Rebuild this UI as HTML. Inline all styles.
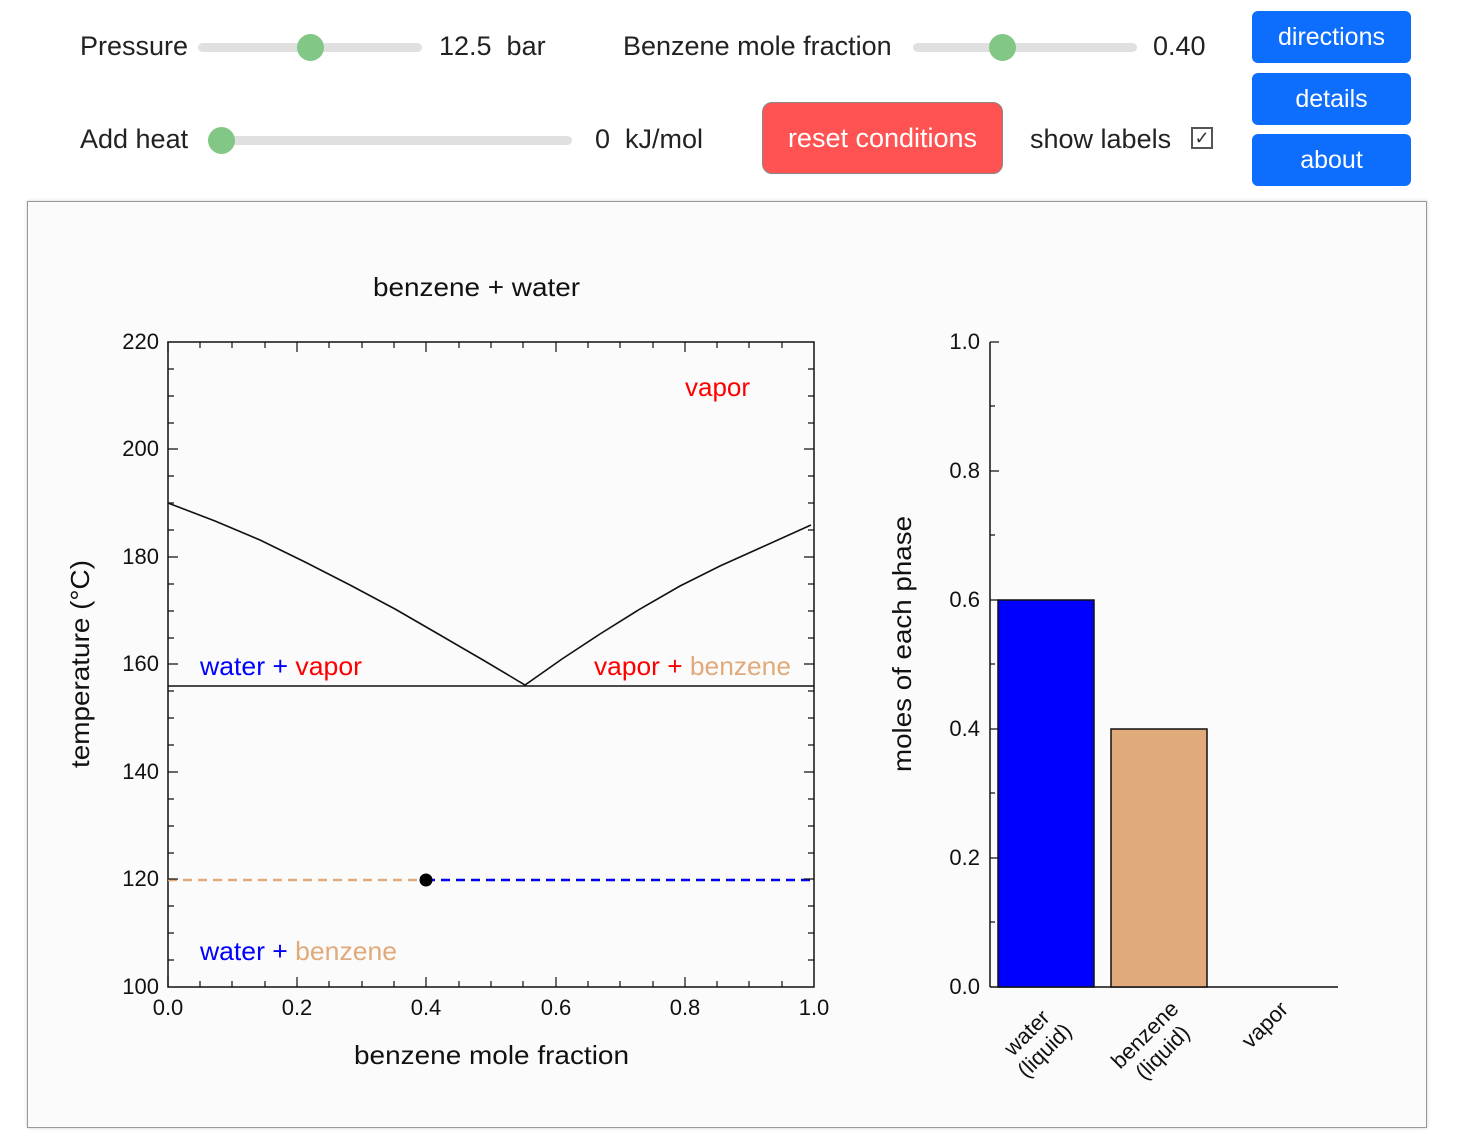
<!DOCTYPE html>
<html><head><meta charset="utf-8"><style>
body{margin:0;width:1469px;height:1147px;background:#fff;font-family:"Liberation Sans",sans-serif;position:relative;overflow:hidden}
.t{position:absolute;font-size:27px;color:#222;white-space:nowrap}
.track{position:absolute;height:9px;background:#e0e0e0;border-radius:5px}
.knob{position:absolute;width:27px;height:27px;border-radius:50%;background:#82c785}
.btn{position:absolute;background:#0d6efd;color:#fff;border-radius:6px;font-size:25px;text-align:center}
</style></head><body>
<div class="t" style="left:80px;top:31px">Pressure</div>
<div class="track" style="left:198px;top:43px;width:224px"></div>
<div class="knob" style="left:297px;top:34px"></div>
<div class="t" style="left:439px;top:31px">12.5&nbsp; bar</div>
<div class="t" style="left:623px;top:31px">Benzene mole fraction</div>
<div class="track" style="left:913px;top:43px;width:224px"></div>
<div class="knob" style="left:989px;top:34px"></div>
<div class="t" style="left:1153px;top:31px">0.40</div>
<div class="t" style="left:80px;top:124px">Add heat</div>
<div class="track" style="left:208px;top:136px;width:364px"></div>
<div class="knob" style="left:208px;top:127px"></div>
<div class="t" style="left:595px;top:124px">0&nbsp; kJ/mol</div>
<div style="position:absolute;left:762px;top:102px;width:239px;height:70px;background:#ff5252;border:1px solid #888;border-radius:10px;color:#fff;font-size:27px;text-align:center;line-height:70px">reset conditions</div>
<div class="t" style="left:1030px;top:124px">show labels</div>
<div style="position:absolute;left:1191px;top:127px;width:18px;height:18px;border:2px solid #555;font-size:18px;line-height:18px;text-align:center;color:#333">✓</div>
<div class="btn" style="left:1252px;top:11px;width:159px;height:52px;line-height:52px">directions</div>
<div class="btn" style="left:1252px;top:73px;width:159px;height:52px;line-height:52px">details</div>
<div class="btn" style="left:1252px;top:134px;width:159px;height:52px;line-height:52px">about</div>
<div style="position:absolute;left:27px;top:201px;width:1398px;height:925px;background:#fbfbfb;border:1px solid #999;box-shadow:0 0 3px #ccc"></div>
<svg style="position:absolute;left:0;top:0" width="1469" height="1147" font-family="Liberation Sans, sans-serif">
<g font-size="26" fill="#111">
<text x="373" y="296" textLength="207" lengthAdjust="spacingAndGlyphs">benzene + water</text>
<text x="354" y="1064" textLength="275" lengthAdjust="spacingAndGlyphs">benzene mole fraction</text>
<text transform="translate(89,768) rotate(-90)" textLength="208" lengthAdjust="spacingAndGlyphs">temperature (°C)</text>
<text transform="translate(911,772) rotate(-90)" textLength="256" lengthAdjust="spacingAndGlyphs">moles of each phase</text>
</g>
<g font-size="22" fill="#111" text-anchor="end">
<text x="159" y="349">220</text><text x="159" y="456">200</text><text x="159" y="564">180</text><text x="159" y="671">160</text><text x="159" y="779">140</text><text x="159" y="886">120</text><text x="159" y="994">100</text>
<text x="980" y="349">1.0</text><text x="980" y="478">0.8</text><text x="980" y="607">0.6</text><text x="980" y="736">0.4</text><text x="980" y="865">0.2</text><text x="980" y="994">0.0</text>
</g>
<g font-size="22" fill="#111" text-anchor="middle">
<text x="168" y="1015">0.0</text><text x="297" y="1015">0.2</text><text x="426" y="1015">0.4</text><text x="556" y="1015">0.6</text><text x="685" y="1015">0.8</text><text x="814" y="1015">1.0</text>
</g>
<rect x="168" y="342" width="646" height="645" fill="none" stroke="#111" stroke-width="1.5"/>
<polyline points="168,503 215,521 260,540 305,562 350,585 395,609 440,635 483,660 525,685 562,659 600,634 640,609 680,586 720,566 760,548 811,525" fill="none" stroke="#111" stroke-width="1.6"/>
<line x1="168" y1="686" x2="814" y2="686" stroke="#111" stroke-width="1.5"/>
<line x1="168" y1="880" x2="426" y2="880" stroke="#e0aa7a" stroke-width="2.5" stroke-dasharray="9,6"/>
<line x1="426" y1="880" x2="814" y2="880" stroke="#0000ee" stroke-width="2.5" stroke-dasharray="9,6"/>
<circle cx="426" cy="880" r="6.5" fill="#000"/>
<g font-size="26">
<text x="685" y="396" fill="#ff0000" textLength="65" lengthAdjust="spacingAndGlyphs">vapor</text>
<text x="200" y="675" textLength="162" lengthAdjust="spacingAndGlyphs"><tspan fill="#0000ff">water + </tspan><tspan fill="#ff0000">vapor</tspan></text>
<text x="594" y="675" textLength="197" lengthAdjust="spacingAndGlyphs"><tspan fill="#ff0000">vapor + </tspan><tspan fill="#e0aa7a">benzene</tspan></text>
<text x="200" y="960" textLength="197" lengthAdjust="spacingAndGlyphs"><tspan fill="#0000ff">water + </tspan><tspan fill="#e0aa7a">benzene</tspan></text>
</g>
<line x1="990" y1="342" x2="990" y2="987" stroke="#111" stroke-width="1.5"/>
<line x1="990" y1="987" x2="1338" y2="987" stroke="#111" stroke-width="1.5"/>
<rect x="998" y="600" width="96" height="387" fill="#0000ff" stroke="#111" stroke-width="1.5"/>
<rect x="1111" y="729" width="96" height="258" fill="#e0aa7a" stroke="#111" stroke-width="1.5"/>
<g font-size="22" fill="#111" text-anchor="middle">
<text transform="translate(1032,1038) rotate(-45)"><tspan x="0" dy="0">water</tspan><tspan x="0" dy="25">(liquid)</tspan></text>
<text transform="translate(1150,1040) rotate(-45)"><tspan x="0" dy="0">benzene</tspan><tspan x="0" dy="25">(liquid)</tspan></text>
<text transform="translate(1270,1030) rotate(-45)">vapor</text>
</g>
<g stroke="#111" stroke-width="1.2">
<path d="M990,342h9M990,471h9M990,600h9M990,729h9M990,858h9M990,406h5M990,535h5M990,664h5M990,793h5M990,922h5"/>
<path d="M168,342v10M297,342v10M426,342v10M556,342v10M685,342v10M168,987v-10M297,987v-10M426,987v-10M556,987v-10M685,987v-10
M200,342v6M232,342v6M265,342v6M329,342v6M362,342v6M394,342v6M459,342v6M491,342v6M523,342v6M588,342v6M620,342v6M653,342v6M717,342v6M749,342v6M782,342v6
M200,987v-6M232,987v-6M265,987v-6M329,987v-6M362,987v-6M394,987v-6M459,987v-6M491,987v-6M523,987v-6M588,987v-6M620,987v-6M653,987v-6M717,987v-6M749,987v-6M782,987v-6
M168,449h10M168,557h10M168,664h10M168,772h10M168,879h10M814,449h-10M814,557h-10M814,664h-10M814,772h-10M814,879h-10
M168,369h6M168,396h6M168,423h6M168,476h6M168,503h6M168,530h6M168,584h6M168,611h6M168,638h6M168,691h6M168,718h6M168,745h6M168,799h6M168,826h6M168,853h6M168,906h6M168,933h6M168,960h6
M814,369h-6M814,396h-6M814,423h-6M814,476h-6M814,503h-6M814,530h-6M814,584h-6M814,611h-6M814,638h-6M814,691h-6M814,718h-6M814,745h-6M814,799h-6M814,826h-6M814,853h-6M814,906h-6M814,933h-6M814,960h-6"/>
</g>
</svg>
</body></html>
